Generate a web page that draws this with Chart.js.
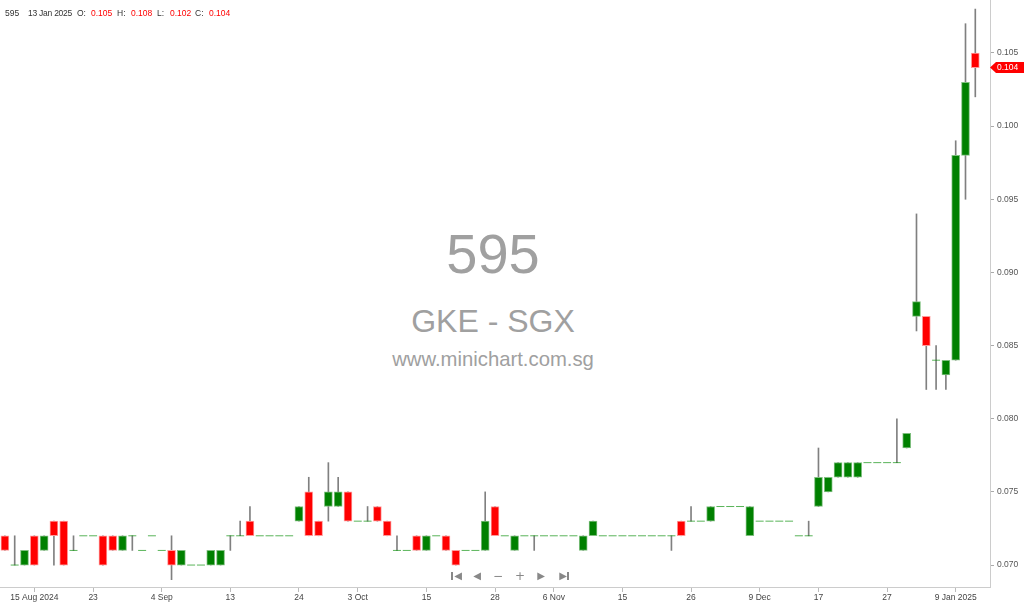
<!DOCTYPE html>
<html><head><meta charset="utf-8">
<script src="https://cdn.jsdelivr.net/npm/chart.js@4.4.1/dist/chart.umd.min.js"></script>
<style>
html,body{margin:0;padding:0;background:#fff;}
#wrap{position:relative;width:1024px;height:605px;overflow:hidden;font-family:"Liberation Sans",Arial,sans-serif;}
#c{position:absolute;left:0;top:0;z-index:2;}
.wm{position:absolute;left:0;width:986px;text-align:center;color:#a0a0a0;z-index:1;line-height:1;white-space:nowrap;}
.hd{position:absolute;top:9px;font-size:8.5px;line-height:1;color:#333;white-space:nowrap;z-index:3;}
.hd.v{color:#ff0000;}
.hd.d{letter-spacing:-0.25px;}
.nav{position:absolute;top:570px;width:12px;height:12px;text-align:center;color:#888;font-family:"DejaVu Sans",sans-serif;font-size:10px;line-height:12px;z-index:3;}
.bar{position:absolute;top:572px;width:2px;height:8px;background:#888;z-index:3;}
</style></head>
<body>
<div id="wrap">
  <div class="wm" style="top:225.6px;font-size:56px;">595</div>
  <div class="wm" style="top:305px;font-size:32px;">GKE - SGX</div>
  <div class="wm" style="top:349px;font-size:20.3px;">www.minichart.com.sg</div>
  <canvas id="c" width="1024" height="605"></canvas>
  <div id="hdr"></div>
  <div class="bar" style="left:451px"></div><div class="nav" style="left:452px">◀</div>
  <div class="nav" style="left:471px">◀</div>
  <div class="nav" style="left:492px;font-size:12px">−</div>
  <div class="nav" style="left:514px;font-size:12px">+</div>
  <div class="nav" style="left:535px">▶</div>
  <div class="nav" style="left:557px">▶</div><div class="bar" style="left:567px"></div>
</div>
<script>
// ---- data ----
const opens  = [0.072,0.070,0.070,0.072,0.071,0.073,0.073,0.071,0.072,0.072,
                0.072,0.072,0.071,0.072,0.071,0.072,0.071,0.071,0.070,0.070,
                0.070,0.070,0.070,0.072,0.072,0.073,0.072,0.072,0.072,0.072,
                0.073,0.075,0.073,0.074,0.074,0.075,0.073,0.073,0.074,0.073,
                0.071,0.071,0.072,0.071,0.072,0.072,0.071,0.071,0.071,0.071,
                0.074,0.072,0.071,0.072,0.072,0.072,0.072,0.072,0.072,0.071,
                0.072,0.072,0.072,0.072,0.072,0.072,0.072,0.072,0.072,0.073,
                0.073,0.073,0.073,0.074,0.074,0.074,0.072,0.073,0.073,0.073,
                0.073,0.072,0.072,0.074,0.075,0.076,0.076,0.076,0.077,0.077,
                0.077,0.077,0.078,0.087,0.087,0.084,0.083,0.084,0.098,0.105];
const highs  = [0.072,0.072,0.071,0.072,0.072,0.073,0.073,0.072,0.072,0.072,
                0.072,0.072,0.072,0.072,0.071,0.072,0.071,0.072,0.071,0.070,
                0.070,0.071,0.071,0.072,0.073,0.074,0.072,0.072,0.072,0.072,
                0.074,0.076,0.073,0.077,0.076,0.075,0.073,0.074,0.074,0.073,
                0.072,0.071,0.072,0.072,0.072,0.072,0.071,0.071,0.071,0.075,
                0.074,0.072,0.072,0.072,0.072,0.072,0.072,0.072,0.072,0.072,
                0.073,0.072,0.072,0.072,0.072,0.072,0.072,0.072,0.072,0.073,
                0.074,0.073,0.074,0.074,0.074,0.074,0.074,0.073,0.073,0.073,
                0.073,0.072,0.073,0.078,0.076,0.077,0.077,0.077,0.077,0.077,
                0.077,0.080,0.079,0.094,0.087,0.085,0.084,0.099,0.107,0.108];
const lows   = [0.071,0.070,0.070,0.070,0.071,0.070,0.070,0.071,0.072,0.072,
                0.070,0.071,0.071,0.071,0.071,0.072,0.071,0.069,0.070,0.070,
                0.070,0.070,0.070,0.071,0.072,0.072,0.072,0.072,0.072,0.072,
                0.073,0.072,0.072,0.073,0.074,0.073,0.073,0.073,0.073,0.072,
                0.071,0.071,0.071,0.071,0.072,0.071,0.070,0.071,0.071,0.071,
                0.072,0.072,0.071,0.072,0.071,0.072,0.072,0.072,0.072,0.071,
                0.072,0.072,0.072,0.072,0.072,0.072,0.072,0.072,0.071,0.072,
                0.073,0.073,0.073,0.074,0.074,0.074,0.072,0.073,0.073,0.073,
                0.073,0.072,0.072,0.074,0.075,0.076,0.076,0.076,0.077,0.077,
                0.077,0.077,0.078,0.086,0.082,0.082,0.082,0.084,0.095,0.102];
const closes = [0.071,0.070,0.071,0.070,0.072,0.072,0.070,0.071,0.072,0.072,
                0.070,0.071,0.072,0.072,0.071,0.072,0.071,0.070,0.071,0.070,
                0.070,0.071,0.071,0.072,0.072,0.072,0.072,0.072,0.072,0.072,
                0.074,0.072,0.072,0.075,0.075,0.073,0.073,0.073,0.073,0.072,
                0.071,0.071,0.071,0.072,0.072,0.071,0.070,0.071,0.071,0.073,
                0.072,0.072,0.072,0.072,0.072,0.072,0.072,0.072,0.072,0.072,
                0.073,0.072,0.072,0.072,0.072,0.072,0.072,0.072,0.072,0.072,
                0.073,0.073,0.074,0.074,0.074,0.074,0.074,0.073,0.073,0.073,
                0.073,0.072,0.072,0.076,0.076,0.077,0.077,0.077,0.077,0.077,
                0.077,0.077,0.079,0.088,0.085,0.084,0.084,0.098,0.103,0.104];
const tickIndex  = [3,9,16,23,30,36,43,50,56,63,70,77,83,90,97];
const tickLabels = ['15 Aug 2024','23','4 Sep','13','24','3 Oct','15','28','6 Nov','15','26','9 Dec','17','27','9 Jan 2025'];
const yTicks     = [0.070,0.075,0.080,0.085,0.090,0.095,0.100,0.105];
const headerInfo = {code:'595', date:'13 Jan 2025'};

const UP = '#008000', DOWN = '#ff0000';
const n = closes.length;
const last = n - 1;

// header (real text)
const hdrParts = [
  [headerInfo.code,5,''],[headerInfo.date,28,' d'],
  ['O:',77,''],[opens[last].toFixed(3),91,' v'],
  ['H:',117,''],[highs[last].toFixed(3),131,' v'],
  ['L:',157,''],[lows[last].toFixed(3),170,' v'],
  ['C:',195,''],[closes[last].toFixed(3),209,' v']
];
const hdr = document.getElementById('hdr');
hdrParts.forEach(([t,x,cls])=>{
  const s=document.createElement('span');
  s.className='hd'+cls; s.style.left=x+'px'; s.textContent=t; hdr.appendChild(s);
});

const bodyData=[], dashData=[], wickData=[];
for(let i=0;i<n;i++){
  if(opens[i]!==closes[i]) bodyData.push({x:i,y:[opens[i],closes[i]]});
  else dashData.push({x:i,y:opens[i]});
  if(highs[i]>lows[i]) wickData.push({x:i,y:[lows[i],highs[i]]});
}

const priceTag = {
  id:'priceTag',
  afterDraw(chart){
    const ctx=chart.ctx, y=chart.scales.y.getPixelForValue(closes[last]);
    const x0=chart.chartArea.right;
    ctx.save();
    ctx.fillStyle='#ff0000';
    ctx.beginPath();
    ctx.moveTo(x0,y); ctx.lineTo(x0+6,y-5.5); ctx.lineTo(1024,y-5.5); ctx.lineTo(1024,y+5.5); ctx.lineTo(x0+6,y+5.5);
    ctx.closePath(); ctx.fill();
    ctx.fillStyle='#fff'; ctx.font='8.5px "Liberation Sans", Arial, sans-serif';
    ctx.textBaseline='middle'; ctx.textAlign='left';
    ctx.fillText(closes[last].toFixed(3), x0+7, y+0.5);
    ctx.restore();
  }
};

new Chart(document.getElementById('c'),{
  type:'bar',
  data:{datasets:[
    {type:'bar',data:bodyData,order:0,grouped:false,barThickness:8,borderWidth:1,borderSkipped:false,
     backgroundColor:c=>(c.raw&&c.raw.y[1]>c.raw.y[0])?UP:DOWN,
     borderColor:c=>(c.raw&&c.raw.y[1]>c.raw.y[0])?'#7fbf7f':'#ff9a9a'},
    {type:'scatter',data:dashData,order:1,pointStyle:'line',pointRadius:4,pointHoverRadius:4,
     borderColor:'rgba(0,140,0,0.65)',borderWidth:1,showLine:false},
    {type:'bar',data:wickData,order:2,grouped:false,barThickness:1,borderWidth:0,backgroundColor:'#808080'}
  ]},
  options:{
    responsive:false,animation:false,
    layout:{padding:0,autoPadding:false},
    plugins:{legend:{display:false},tooltip:{enabled:false}},
    events:[],
    scales:{
      x:{type:'linear',min:-0.5,max:n+0.5,offset:false,
         afterBuildTicks:s=>{s.ticks=tickIndex.map(v=>({value:v}));},
         afterFit:s=>{s.height=18;s.paddingLeft=0;s.paddingRight=0;},
         grid:{drawOnChartArea:false,drawTicks:true,tickLength:5,color:'#bbb',offset:false},
         border:{display:true,color:'#ccc'},
         ticks:{autoSkip:false,maxRotation:0,padding:1,color:'#444',
                font:{family:'"Liberation Sans", Arial, sans-serif',size:8.5},
                callback:v=>{const k=tickIndex.indexOf(v);return k>=0?tickLabels[k]:'';}}},
      y:{type:'linear',position:'right',min:0.06850,max:0.10862,
         afterBuildTicks:s=>{s.ticks=yTicks.map(v=>({value:v}));},
         afterFit:s=>{s.width=34;s.paddingTop=0;s.paddingBottom=0;},
         grid:{drawOnChartArea:false,drawTicks:true,tickLength:4,color:'#aaa'},
         border:{display:true,color:'#ccc'},
         ticks:{padding:3,color:'#555',font:{family:'"Liberation Sans", Arial, sans-serif',size:8.5},
                callback:v=>v.toFixed(3)}}
    }
  },
  plugins:[priceTag]
});
</script>
</body></html>
